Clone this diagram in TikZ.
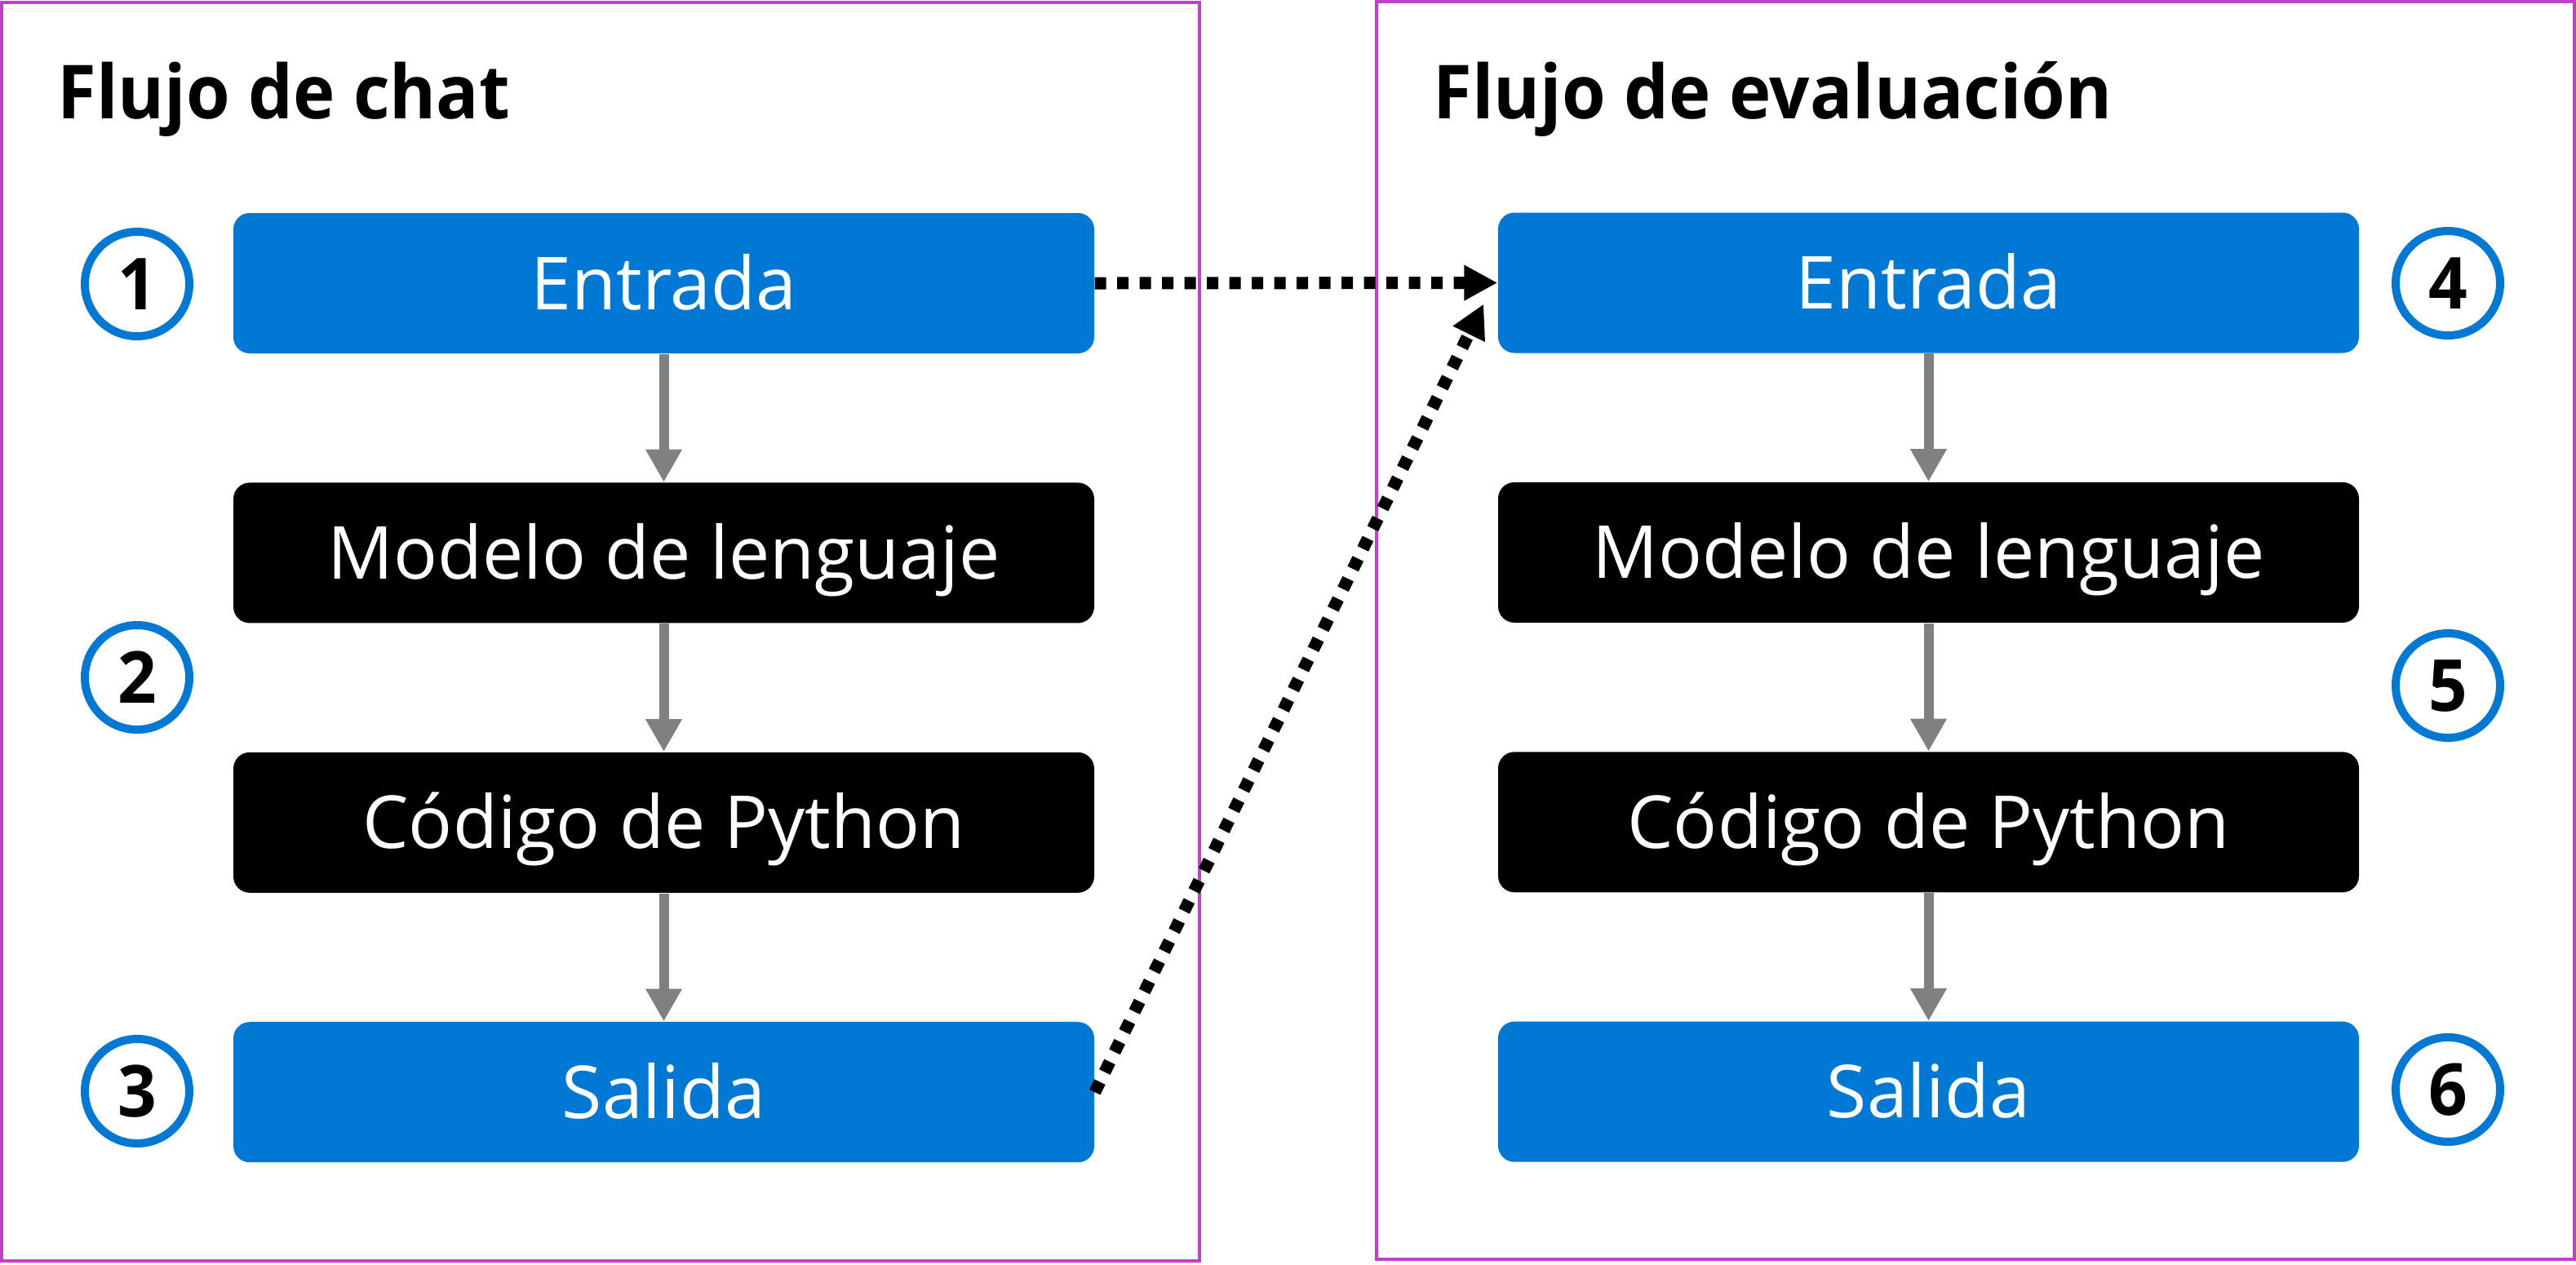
\documentclass[tikz,border=0pt]{standalone}
\usepackage{fontspec}
\setmainfont{Open Sans}[BoldFeatures={FakeStretch=0.95}]
\usetikzlibrary{arrows.meta,positioning,calc}
\definecolor{msblue}{HTML}{0078D4}
\definecolor{framepink}{HTML}{C040CA}
\tikzset{>={Triangle[width=0.42cm,length=0.40cm]}}
\tikzset{
  stepbox/.style={fill=msblue, rounded corners=0.2cm, minimum width=10.55cm,
    minimum height=1.72cm, text=white, font=\fontsize{25.5}{30}\selectfont,
    text height=0.64cm, text depth=0pt},
  darkbox/.style={stepbox, fill=black},
  numcirc/.style={circle, draw=msblue, line width=0.1cm, minimum size=1.28cm,
    inner sep=0pt, font=\bfseries\fontsize{25}{30}\selectfont,
    text height=0.63cm, text depth=0pt},
  flow/.style={->, draw=gray, fill=gray, line width=0.12cm},
  link/.style={-{Triangle[width=0.41cm,length=0.41cm]}, black, line width=0.15cm,
    dash pattern=on 0.14cm off 0.135cm},
  flowtitle/.style={anchor=base west, font=\bfseries\fontsize{26}{30}\selectfont},
  frame/.style={draw=framepink, line width=0.035cm}
}

\begin{document}
\begin{tikzpicture}[node distance=1.57cm]
    \useasboundingbox (0,0) rectangle (31.57,-15.49);
    \draw[frame] (0.02,-0.03) rectangle (14.70,-15.45);
    \draw[frame] (16.87,-0.02) rectangle (31.55,-15.43);
    \node[flowtitle] (t1) at (0.58,-1.45) {Flujo de chat};
    \node[flowtitle] (t2) at (17.44,-1.45) {Flujo de evaluación};

    \node[stepbox] (e1) at (8.135,-3.47) {Entrada};
    \node[darkbox, below=of e1] (m1) {Modelo de lenguaje};
    \node[darkbox, below=of m1] (c1) {Código de Python};
    \node[stepbox, below=of c1] (s1) {Salida};

    \node[stepbox] (e2) at (23.635,-3.465) {Entrada};
    \node[darkbox, below=of e2] (m2) {Modelo de lenguaje};
    \node[darkbox, below=of m2] (c2) {Código de Python};
    \node[stepbox, below=of c2] (s2) {Salida};

    \node[numcirc] (n1) at (1.68,-3.48) {1};
    \node[numcirc] (n2) at (1.68,-8.30) {2};
    \node[numcirc] (n3) at (1.68,-13.37) {3};
    \node[numcirc] (n4) at (30.00,-3.47) {4};
    \node[numcirc] (n5) at (30.00,-8.40) {5};
    \node[numcirc] (n6) at (30.00,-13.35) {6};

    \draw[flow] (e1) -- (m1);
    \draw[flow] (m1) -- (c1);
    \draw[flow] (c1) -- (s1);
    \draw[flow] (e2) -- (m2);
    \draw[flow] (m2) -- (c2);
    \draw[flow] (c2) -- (s2);

    \coordinate (tipin) at ($(e2.west)+(-0.17,-0.26)$);
    \draw[link] (e1.east) -- (e2.west);
    \draw[link] (s1.east) -- (tipin);
\end{tikzpicture}
\end{document}
